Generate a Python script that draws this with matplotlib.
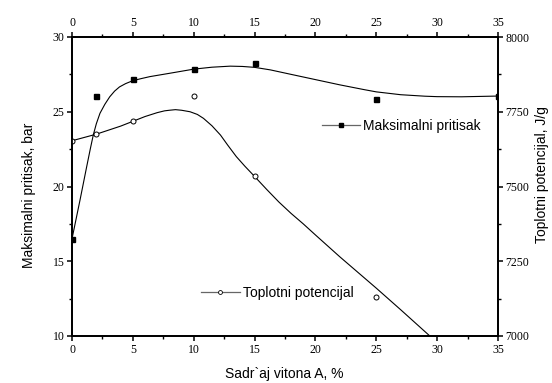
import matplotlib
matplotlib.use("Agg")
import matplotlib.pyplot as plt
from matplotlib.lines import Line2D

# measured points
x_pts = [0, 2, 5, 10, 15, 25, 35]
pritisak = [16.5, 26.07, 27.19, 27.88, 28.28, 25.87, 26.07]
x_pot = [0, 2, 5, 10, 15, 25]
potencijal = [7653, 7675, 7718, 7802, 7536, 7132]

# fitted curves
x_fit_p = [0, 0.66, 1.2, 1.5, 1.75, 2.0, 2.3, 2.7, 3.1, 3.5, 3.9, 4.4, 5.0, 5.7,
           6.4, 8, 10, 11.5, 13, 14, 15, 16.3, 18, 20, 22, 24, 25, 27, 29, 30,
           32, 35]
fit_p = [16.5, 19.1, 21.3, 22.5, 23.45, 24.2, 24.9, 25.5, 26.0, 26.38, 26.66,
         26.88, 27.08, 27.22, 27.35, 27.57, 27.85, 27.98, 28.05, 28.03, 27.97,
         27.8, 27.5, 27.15, 26.8, 26.48, 26.33, 26.14, 26.04, 26.01, 26.0, 26.05]
x_fit_t = [0, 2, 4, 5, 6, 7, 7.6, 8, 8.5, 9, 9.7, 10.3, 10.8, 11.5, 12.2, 12.8,
           13.5, 14.2, 14.9, 16, 17, 18, 19, 20, 22, 25, 27, 29.4]
fit_t = [7653, 7675, 7702, 7718, 7734, 7747, 7753, 7755, 7757, 7755, 7750, 7741,
         7728, 7703, 7672, 7638, 7600, 7568, 7538, 7490, 7448, 7410, 7375, 7338,
         7265, 7160, 7088, 7000]

sans = "Liberation Sans"
serif = "Liberation Serif"
plt.rcParams["font.family"] = serif

fig = plt.figure(figsize=(5.52, 3.83), dpi=100)
ax = fig.add_axes([72 / 552, 47 / 383, 426 / 552, 299 / 383])
ax2 = ax.twinx()

ax.plot(x_fit_p, fit_p, color="black", lw=0.8)
ax.plot(x_pts, pritisak, "s", color="black", ms=3.6, ls="none")
ax2.plot(x_fit_t, fit_t, color="black", lw=0.8)
ax2.plot(x_pot, potencijal, "o", mfc="white", mec="black", mew=0.7, ms=3.6, ls="none")

ax.set_xlim(0, 35)
ax.set_ylim(10, 30)
ax2.set_ylim(7000, 8000)
ax.set_xticks(range(0, 36, 5))
ax.set_xticks([2.5 + 5 * i for i in range(7)], minor=True)
ax.set_yticks([10, 15, 20, 25, 30])
ax.set_yticks([12.5, 17.5, 22.5, 27.5], minor=True)
ax2.set_yticks([7000, 7250, 7500, 7750, 8000])
ax2.set_yticks([7125, 7375, 7625, 7875], minor=True)

ax.tick_params(axis="x", which="both", top=True, labeltop=True)
for a in (ax, ax2):
    for s in a.spines.values():
        s.set_linewidth(1.3)
    a.tick_params(which="major", length=3.5, width=1.1, labelsize=8.5, pad=2)
    a.tick_params(which="minor", length=2.2, width=1.0)

ax.set_xlabel("Sadr`aj vitona A, %", fontfamily=sans, fontsize=10)
ax.set_ylabel("Maksimalni pritisak, bar", fontfamily=sans, fontsize=10)
ax2.set_ylabel("Toplotni potencijal, J/g", fontfamily=sans, fontsize=10)
ax.xaxis.set_label_coords(0.498, -0.104)
ax.yaxis.set_label_coords(-0.085, 0.47)
ax2.yaxis.set_label_coords(1.088, 0.54)

h1 = Line2D([], [], color="0.4", lw=0.9, marker="s", ms=2.6, mfc="black", mec="black")
h2 = Line2D([], [], color="0.4", lw=0.9, marker="o", ms=2.8, mfc="white", mec="black", mew=0.6)
leg1 = fig.legend([h1], ["Maksimalni pritisak"], loc="center left",
                  bbox_to_anchor=(321.7 / 552, 1 - 126 / 383), frameon=False,
                  borderpad=0, borderaxespad=0, handlelength=2.75, handletextpad=0.2,
                  prop={"family": sans, "size": 10})
leg2 = fig.legend([h2], ["Toplotni potencijal"], loc="center left",
                  bbox_to_anchor=(200.7 / 552, 1 - 293.3 / 383), frameon=False,
                  borderpad=0, borderaxespad=0, handlelength=2.85, handletextpad=0.2,
                  prop={"family": sans, "size": 10})

fig.savefig("out.png", dpi=100)
